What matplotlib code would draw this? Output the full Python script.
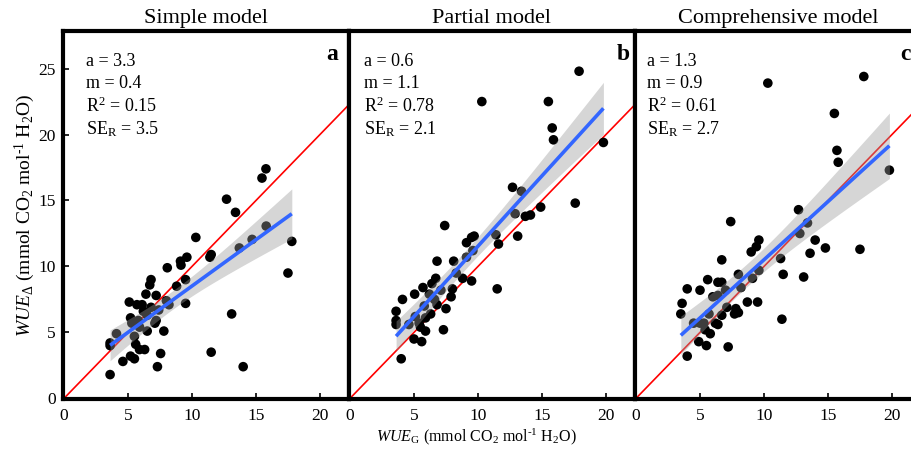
import numpy as np
import matplotlib
matplotlib.use("Agg")
import matplotlib.pyplot as plt

plt.rcParams['font.family'] = ['Liberation Serif', 'DejaVu Serif']
plt.rcParams['mathtext.fontset'] = 'custom'
plt.rcParams['mathtext.rm'] = 'Liberation Serif'
plt.rcParams['mathtext.it'] = 'Liberation Serif:italic'
plt.rcParams['mathtext.bf'] = 'Liberation Serif:bold'

titles = ["Simple model", "Partial model", "Comprehensive model"]
letters = ["a", "b", "c"]
stats = [("3.3", "0.4", "0.15", "3.5"),
         ("0.6", "1.1", "0.78", "2.1"),
         ("1.3", "0.9", "0.61", "2.7")]

# Panel a
xa = [15.78, 15.47, 12.7, 13.4, 15.8, 14.7, 13.7, 17.8, 17.5, 10.3, 11.5, 11.4, 9.6, 9.1,
      9.14, 8.07, 9.5, 8.8, 6.8, 6.7, 6.4, 7.2, 5.1, 5.7, 6.1, 8.0, 8.2, 9.5, 6.8, 7.4,
      6.2, 6.5, 5.2, 5.3, 5.8, 7.2, 7.1, 5.9, 6.5, 7.8, 4.1, 3.6, 3.6, 5.5, 5.6, 5.9,
      6.3, 5.2, 5.5, 4.6, 7.55, 7.3, 3.6, 11.5, 13.1, 14.0]
ya = [17.4, 16.7, 15.1, 14.1, 13.06, 12.05, 11.4, 11.9, 9.5, 12.2, 10.9, 10.7, 10.7, 10.4,
      10.1, 9.9, 9.0, 8.5, 9.0, 8.6, 7.9, 7.8, 7.3, 7.1, 7.1, 7.4, 7.1, 7.2, 6.9, 6.7,
      6.6, 6.3, 6.1, 5.7, 5.9, 5.9, 5.7, 5.4, 5.1, 5.1, 4.9, 4.2, 4.0, 4.7, 4.1, 3.7,
      3.7, 3.2, 3.0, 2.8, 3.4, 2.4, 1.8, 3.5, 6.4, 2.4]

# Panel b
xb = [17.9, 10.3, 15.5, 15.8, 15.9, 19.8, 12.7, 13.4, 17.6, 14.9, 12.9, 13.7, 14.1, 11.4,
      13.1, 11.6, 9.7, 9.5, 9.1, 7.4, 9.1, 9.6, 6.8, 8.1, 8.3, 6.7, 6.4, 8.8, 9.5, 5.7,
      5.05, 6.2, 7.1, 8.0, 7.9, 11.5, 4.1, 3.6, 3.6, 3.6, 5.8, 6.8, 7.5, 6.3, 5.1, 5.9,
      5.4, 4.6, 5.5, 5.9, 7.3, 5.0, 5.6, 4.0, 6.6]
yb = [24.8, 22.5, 22.5, 20.5, 19.6, 19.4, 16.0, 15.7, 14.8, 14.5, 14.0, 13.8, 13.9, 12.4,
      12.3, 11.7, 12.3, 12.2, 11.8, 13.1, 10.7, 11.2, 10.4, 10.4, 9.5, 9.1, 8.7, 9.1, 8.9, 8.4,
      7.9, 7.9, 8.2, 8.3, 7.7, 8.3, 7.5, 6.6, 5.9, 5.6, 7.0, 7.1, 6.8, 6.4, 6.2, 6.1,
      5.7, 5.6, 5.4, 5.1, 5.2, 4.5, 4.3, 3.0, 7.5]

# Panel c
xc = [17.8, 10.3, 15.5, 15.7, 15.8, 19.8, 12.7, 13.4, 12.8, 14.0, 14.8, 17.5, 13.6, 11.3,
      11.5, 13.1, 9.6, 9.4, 9.0, 7.4, 6.7, 8.0, 9.1, 9.6, 5.6, 6.4, 6.7, 4.0, 5.0, 7.0,
      8.2, 8.7, 9.5, 3.6, 3.5, 6.0, 6.4, 7.8, 7.7, 8.0, 7.1, 6.7, 5.7, 11.4, 4.5, 5.0,
      6.2, 6.4, 5.4, 5.8, 4.9, 5.5, 7.2, 4.0, 5.3]
yc = [24.4, 23.9, 21.6, 18.8, 17.9, 17.3, 14.3, 13.3, 12.5, 12.0, 11.4, 11.3, 11.0, 10.6,
      9.4, 9.2, 12.0, 11.5, 11.1, 13.4, 10.5, 9.4, 9.1, 9.7, 9.0, 8.8, 8.8, 8.3, 8.2, 8.2,
      8.4, 7.3, 7.3, 7.2, 6.4, 7.7, 7.8, 6.8, 6.4, 6.5, 6.9, 6.3, 6.4, 6.0, 5.7, 5.7,
      5.7, 5.6, 5.2, 4.9, 4.3, 4.0, 3.9, 3.2, 5.7]

data = [(xa, ya), (xb, yb), (xc, yc)]
xticks = [0, 5, 10, 15, 20]
yticks = [0, 5, 10, 15, 20, 25]

W, H = 912, 449
fig = plt.figure(figsize=(W / 100, H / 100), dpi=100)
lefts = [63, 349, 635]
aw, ah = 286, 368
bottom = 50
text_x = [0.081, 0.052, 0.042]
letter_x = [0.94, 0.96, 0.944]
HY = "\u2010"

for i in range(3):
    ax = fig.add_axes([lefts[i] / W, bottom / H, aw / W, ah / H])
    x = np.array(data[i][0], dtype=float)
    y = np.array(data[i][1], dtype=float)
    ax.set_xlim(-0.08, 22.27)
    ax.set_ylim(-0.05, 27.85)
    # 1:1 line
    ax.plot([0, 30], [0, 30], color='#ff0000', lw=1.2, zorder=2)
    ax.scatter(x, y, s=48, color='black', edgecolors='none', zorder=3)
    # regression with 95% CI
    n = len(x)
    b1, b0 = np.polyfit(x, y, 1)
    xs = np.linspace(x.min(), x.max(), 100)
    yhat = b0 + b1 * xs
    resid = y - (b0 + b1 * x)
    s = np.sqrt(np.sum(resid ** 2) / (n - 2))
    sxx = np.sum((x - x.mean()) ** 2)
    se = s * np.sqrt(1 / n + (xs - x.mean()) ** 2 / sxx)
    t = 2.005
    ax.fill_between(xs, yhat - t * se, yhat + t * se, color='#999999', alpha=0.4,
                    lw=0, zorder=4)
    ax.plot(xs, yhat, color='#3366FF', lw=2.6, zorder=5, solid_capstyle='butt')

    for sp in ax.spines.values():
        sp.set_linewidth(3.0)
        sp.set_color('black')
    ax.set_xticks(xticks)
    ax.set_xticklabels([str(v) for v in xticks], fontsize=12.5)
    ax.tick_params(axis='both', direction='in', length=4, width=1.2)
    ax.tick_params(axis='x', pad=6.5)
    ax.tick_params(axis='y', pad=5)
    if i == 0:
        ax.set_yticks(yticks)
        ax.set_yticklabels([str(v) for v in yticks], fontsize=12.5)
        ax.set_ylabel(r'$\mathit{WUE}_{\Delta}$ (mmol CO$_2$ mol$^{' + HY + r'1}$ H$_2$O)',
                      fontsize=14, labelpad=1)
    else:
        ax.set_yticks([])
    ax.set_title(titles[i], fontsize=16, pad=6)
    a_, m_, r2_, se_ = stats[i]
    tx = text_x[i]
    ax.text(tx, 0.916, f"a = {a_}", transform=ax.transAxes, fontsize=13, va='center', ha='left')
    ax.text(tx, 0.856, f"m = {m_}", transform=ax.transAxes, fontsize=13, va='center', ha='left')
    ax.text(tx, 0.795, r"R$^{2}$ = " + r2_, transform=ax.transAxes, fontsize=13, va='center', ha='left')
    ax.text(tx, 0.733, r"SE$_{\mathrm{R}}$ = " + se_, transform=ax.transAxes, fontsize=13, va='center', ha='left')
    ax.text(letter_x[i], 0.935, letters[i], transform=ax.transAxes, fontsize=17,
            fontweight='bold', va='center', ha='center')

fig.text(476 / W, 1 - 437 / H,
         r'$\mathit{WUE}_{\mathrm{G}}$ (mmol CO$_2$ mol$^{' + HY + r'1}$ H$_2$O)',
         fontsize=11.5, ha='center', va='center')

fig.savefig('out.png', dpi=100)
